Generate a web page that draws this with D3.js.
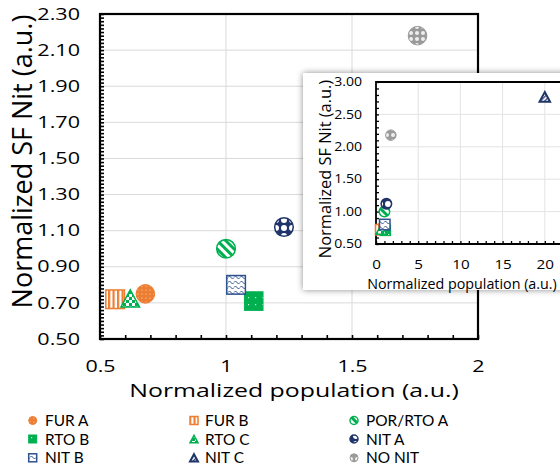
<!DOCTYPE html>
<html><head><meta charset="utf-8">
<script src="https://cdn.jsdelivr.net/npm/d3@7"></script>
<style>
body{margin:0;background:#fff}
svg{display:block}
text{fill:#000}
</style>
</head><body>
<svg id="chart" width="560" height="472" font-family="'Open Sans', sans-serif"></svg>
<script>
// ---------------- data ----------------
const categories = ["FUR A","FUR B","POR/RTO A","RTO B","RTO C","NIT A","NIT B","NIT C","NO NIT"];
const populationValues = [0.68, 0.56, 1.00, 1.11, 0.62, 1.23, 1.04, 20.0, 1.76];
const sfNitValues      = [0.75, 0.72, 1.00, 0.71, 0.725, 1.12, 0.80, 2.77, 2.18];
const mainXTicks  = [0.5, 1, 1.5, 2];
const mainYTicks  = [0.5, 0.7, 0.9, 1.1, 1.3, 1.5, 1.7, 1.9, 2.1, 2.3];
const insetXTicks = [0, 5, 10, 15, 20];
const insetYTicks = [0.5, 1.0, 1.5, 2.0, 2.5, 3.0];
const xTitle = "Normalized population (a.u.)";
const yTitle = "Normalized SF Nit (a.u.)";

// ---------------- styles ----------------
const ORANGE="#ED7D31", GREEN="#00B050", NAVY="#1F3468", BLUE="#2F528F", GRAY="#9A9A9A";
const style = {
  "FUR A":     {shape:"circle",   fill:"url(#pFurA)", stroke:ORANGE, sw:1},
  "FUR B":     {shape:"square",   fill:"url(#pFurB)", stroke:ORANGE, sw:1.5},
  "POR/RTO A": {shape:"circle",   fill:"url(#pPor)",  stroke:GREEN,  sw:1.5},
  "RTO B":     {shape:"square",   fill:"url(#pRtoB)", stroke:GREEN,  sw:1},
  "RTO C":     {shape:"triangle", fill:"url(#pRtoC)", stroke:GREEN,  sw:1.5},
  "NIT A":     {shape:"circle",   fill:"url(#pNitA)", stroke:NAVY,   sw:1.5},
  "NIT B":     {shape:"square",   fill:"url(#pNitB)", stroke:BLUE,   sw:1.5},
  "NIT C":     {shape:"triangle", fill:"url(#pNitC)", stroke:NAVY,   sw:2},
  "NO NIT":    {shape:"circle",   fill:"url(#pNoNit)",stroke:GRAY,   sw:1}
};

const svg = d3.select("#chart");
const defs = svg.append("defs");

function pattern(id, w, h, draw, transform){
  const p = defs.append("pattern").attr("id",id).attr("patternUnits","userSpaceOnUse")
    .attr("width",w).attr("height",h);
  if(transform) p.attr("patternTransform",transform);
  draw(p);
}
pattern("pFurA",4,4,p=>{p.append("rect").attr("width",4).attr("height",4).attr("fill",ORANGE);
  p.append("circle").attr("cx",2).attr("cy",2).attr("r",0.6).attr("fill","#fff").attr("opacity",0.75);});
pattern("pFurB",4.5,4,p=>{p.append("rect").attr("width",4.5).attr("height",4).attr("fill","#fff");
  p.append("rect").attr("width",2.2).attr("height",4).attr("fill",ORANGE);});
pattern("pPor",6,6,p=>{p.append("rect").attr("width",6).attr("height",6).attr("fill","#fff");
  p.append("rect").attr("width",3).attr("height",6).attr("fill",GREEN);},"rotate(-45)");
pattern("pRtoB",7,7,p=>{p.append("rect").attr("width",7).attr("height",7).attr("fill",GREEN);
  p.append("rect").attr("x",3).attr("y",3).attr("width",1.2).attr("height",1.2).attr("fill","#fff").attr("opacity",0.8);});
pattern("pRtoC",6,6,p=>{p.append("rect").attr("width",6).attr("height",6).attr("fill","#fff");
  p.append("rect").attr("width",3).attr("height",3).attr("fill",GREEN);
  p.append("rect").attr("x",3).attr("y",3).attr("width",3).attr("height",3).attr("fill",GREEN);});
pattern("pNitA",8,8,p=>{p.append("rect").attr("width",8).attr("height",8).attr("fill",NAVY);
  p.append("circle").attr("cx",4).attr("cy",4).attr("r",3).attr("fill","#fff");});
pattern("pNitB",6,5,p=>{p.append("rect").attr("width",6).attr("height",5).attr("fill","#fff");
  p.append("path").attr("d","M0,2.5 L1.5,1 L4.5,4 L6,2.5").attr("fill","none").attr("stroke",BLUE).attr("stroke-width",1);});
pattern("pNitC",3,3,p=>{p.append("rect").attr("width",3).attr("height",3).attr("fill","#fff");
  p.append("rect").attr("width",1.2).attr("height",3).attr("fill",NAVY);},"rotate(45)");
pattern("pNoNit",6,6,p=>{p.append("rect").attr("width",6).attr("height",6).attr("fill",GRAY);
  p.append("circle").attr("cx",3).attr("cy",3).attr("r",2).attr("fill","#eee");});

defs.append("filter").attr("id","shadow").attr("x","-10%").attr("y","-10%").attr("width","120%").attr("height","120%")
  .append("feDropShadow").attr("dx",0).attr("dy",0).attr("stdDeviation",3)
  .attr("flood-color","#000").attr("flood-opacity",0.45);

function drawMarker(g, cat, cx, cy, size){
  const s = style[cat];
  let el;
  if(s.shape==="circle"){
    el = g.append("circle").attr("cx",cx).attr("cy",cy).attr("r",size/2);
  } else if(s.shape==="square"){
    el = g.append("rect").attr("x",cx-size/2).attr("y",cy-size/2).attr("width",size).attr("height",size);
  } else {
    const w=size, h=size*0.92;
    el = g.append("path").attr("d",`M${cx},${cy-h/2} L${cx+w/2},${cy+h/2} L${cx-w/2},${cy+h/2} Z`)
      .attr("stroke-linejoin","miter");
  }
  el.attr("fill",s.fill).attr("stroke",s.stroke).attr("stroke-width",s.sw);
}

function stretchX(sel, sx){
  sel.each(function(){
    const t=d3.select(this);
    const x=+t.attr("x")||0, y=+t.attr("y")||0;
    t.attr("transform",`translate(${x},${y}) scale(${sx},1) translate(${-x},${-y})`);
  });
}
function fixAxisText(sel, size){
  sel.attr("font-size",size).attr("font-family",null).attr("fill","#000")
    .style("font-family","'Open Sans', sans-serif");
}

// ---------------- main chart ----------------
const M = {l:100, r:478, t:14, b:339};
const x = d3.scaleLinear().domain([0.5,2]).range([M.l,M.r]);
const y = d3.scaleLinear().domain([0.5,2.3]).range([M.b,M.t]);

const main = svg.append("g");
main.append("g").selectAll("line").data(mainYTicks.slice(1,-1)).join("line")
  .attr("x1",M.l).attr("x2",M.r).attr("y1",d=>y(d)).attr("y2",d=>y(d))
  .attr("stroke","#d9d9d9").attr("stroke-width",1);
main.append("g").selectAll("line").data(mainXTicks.slice(1,-1)).join("line")
  .attr("y1",M.t).attr("y2",M.b).attr("x1",d=>x(d)).attr("x2",d=>x(d))
  .attr("stroke","#d9d9d9").attr("stroke-width",1);

const yMinor = d3.range(0,91).map(i=>0.5+i*0.02);
main.append("g").attr("transform",`translate(${M.l},0)`)
  .call(d3.axisLeft(y).tickValues(yMinor).tickSize(-4).tickFormat(""))
  .call(g=>{g.select(".domain").remove(); g.selectAll("line").attr("stroke","#000").attr("stroke-width",1.6);});
const xMinor = d3.range(0,16).map(i=>0.5+i*0.1);
main.append("g").attr("transform",`translate(0,${M.b})`)
  .call(d3.axisBottom(x).tickValues(xMinor).tickSize(-4).tickFormat(""))
  .call(g=>{g.select(".domain").remove(); g.selectAll("line").attr("stroke","#000").attr("stroke-width",1.6);});

const yAx = main.append("g").attr("transform",`translate(${M.l},0)`)
  .call(d3.axisLeft(y).tickValues(mainYTicks).tickSize(0).tickPadding(20).tickFormat(d3.format(".2f")));
yAx.select(".domain").remove();
fixAxisText(yAx.selectAll("text"),16);
stretchX(yAx.selectAll("text"),1.35);
const xAx = main.append("g").attr("transform",`translate(0,${M.b})`)
  .call(d3.axisBottom(x).tickValues(mainXTicks).tickSize(0).tickPadding(21).tickFormat(d=>String(d)));
xAx.select(".domain").remove();
fixAxisText(xAx.selectAll("text"),16.5);
stretchX(xAx.selectAll("text"),1.3);

main.append("rect").attr("x",M.l).attr("y",M.t).attr("width",M.r-M.l).attr("height",M.b-M.t)
  .attr("fill","none").attr("stroke","#000").attr("stroke-width",2.2);

const xt = main.append("text").attr("x",294).attr("y",397).attr("text-anchor","middle")
  .attr("font-size",18).text(xTitle);
stretchX(xt,1.38);
main.append("text").attr("transform","translate(32,161.5) rotate(-90)").attr("text-anchor","middle")
  .attr("font-size",27).text(yTitle);

const pts = main.append("g");
categories.forEach((c,i)=>{
  const px = populationValues[i], py = sfNitValues[i];
  if(px<0.5||px>2||py<0.5||py>2.3) return;
  drawMarker(pts,c,x(px),y(py),18.6);
});

// ---------------- inset ----------------
const I = {l:376, r:587, t:82, b:244};
const ix = d3.scaleLinear().domain([0,25]).range([I.l,I.r]);
const iy = d3.scaleLinear().domain([0.5,3]).range([I.b,I.t]);
const inset = svg.append("g");
inset.append("rect").attr("x",303).attr("y",73).attr("width",280).attr("height",217)
  .attr("fill","#fff").attr("filter","url(#shadow)");
inset.append("g").selectAll("line").data(insetYTicks.slice(1,-1)).join("line")
  .attr("x1",I.l).attr("x2",I.r).attr("y1",d=>iy(d)).attr("y2",d=>iy(d))
  .attr("stroke","#e3e3e3").attr("stroke-width",1);
inset.append("g").selectAll("line").data(insetXTicks.slice(1)).join("line")
  .attr("y1",I.t).attr("y2",I.b).attr("x1",d=>ix(d)).attr("x2",d=>ix(d))
  .attr("stroke","#e3e3e3").attr("stroke-width",1);
const iyMinor = d3.range(0,26).map(i=>0.5+i*0.1);
inset.append("g").attr("transform",`translate(${I.l},0)`)
  .call(d3.axisLeft(iy).tickValues(iyMinor).tickSize(-3).tickFormat(""))
  .call(g=>{g.select(".domain").remove(); g.selectAll("line").attr("stroke","#000").attr("stroke-width",1.3);});
const ixMinor = d3.range(0,26);
inset.append("g").attr("transform",`translate(0,${I.b})`)
  .call(d3.axisBottom(ix).tickValues(ixMinor).tickSize(-3).tickFormat(""))
  .call(g=>{g.select(".domain").remove(); g.selectAll("line").attr("stroke","#000").attr("stroke-width",1.3);});
const iyAx = inset.append("g").attr("transform",`translate(${I.l},0)`)
  .call(d3.axisLeft(iy).tickValues(insetYTicks).tickSize(0).tickPadding(14).tickFormat(d3.format(".2f")));
iyAx.select(".domain").remove();
fixAxisText(iyAx.selectAll("text"),11.7);
stretchX(iyAx.selectAll("text"),1.2);
const ixAx = inset.append("g").attr("transform",`translate(0,${I.b})`)
  .call(d3.axisBottom(ix).tickValues(insetXTicks).tickSize(0).tickPadding(17).tickFormat(d=>String(d)));
ixAx.select(".domain").remove();
fixAxisText(ixAx.selectAll("text"),11.7);
stretchX(ixAx.selectAll("text"),1.3);
inset.append("path").attr("d",`M${I.r},${I.t} H${I.l} V${I.b} H${I.r}`)
  .attr("fill","none").attr("stroke","#000").attr("stroke-width",1.8);
inset.append("text").attr("x",462).attr("y",289).attr("text-anchor","middle")
  .attr("font-size",14.3).text(xTitle);
inset.append("text").attr("transform","translate(331,169) rotate(-90)").attr("text-anchor","middle")
  .attr("font-size",16.4).text(yTitle);
const ipts = inset.append("g");
categories.forEach((c,i)=>{
  drawMarker(ipts,c,ix(populationValues[i]),iy(sfNitValues[i]),10.5);
});

// ---------------- legend ----------------
const legend = svg.append("g");
const colText = [45,205,366], colMark = [32.7,194,354], rowY = [420.5,439,457.8];
categories.forEach((c,i)=>{
  const col = i%3, row = Math.floor(i/3);
  drawMarker(legend,c,colMark[col],rowY[row],8);
  legend.append("text").attr("x",colText[col]).attr("y",rowY[row]+5.5)
    .style("font-family","Lato, sans-serif").attr("font-size",15.4).text(c);
});
</script>
</body></html>
